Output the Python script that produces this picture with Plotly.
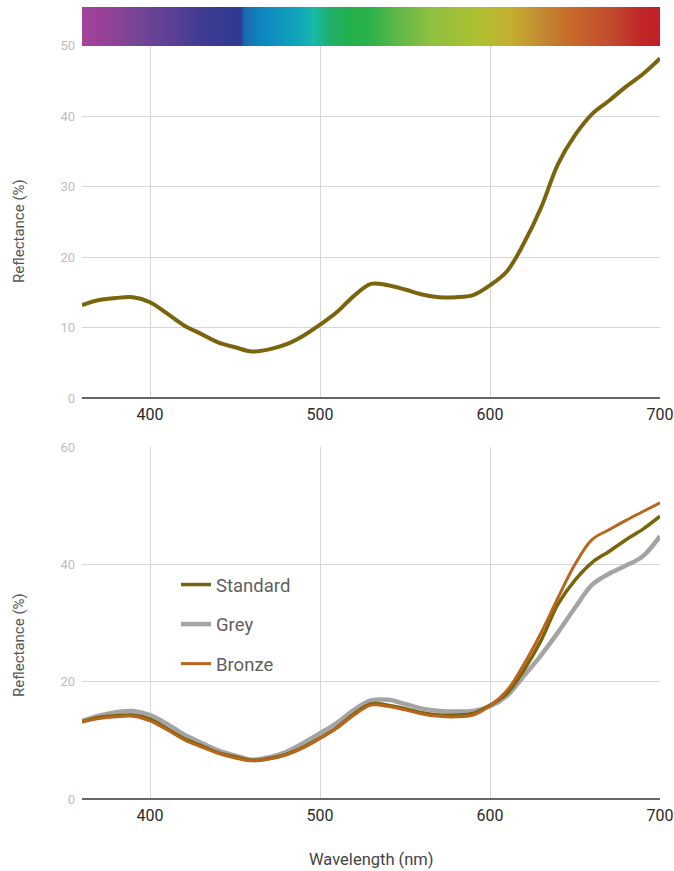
import numpy as np
import plotly.graph_objects as go

# Wavelength grid (nm)
wavelength = list(range(360, 701, 10))

# Reflectance (%) per glass type
standard = [13.2, 13.9, 14.2, 14.3, 13.6, 12.0, 10.3, 9.1, 7.9, 7.2, 6.6, 6.9, 7.6, 8.8,
            10.4, 12.2, 14.5, 16.2, 16.0, 15.4, 14.7, 14.3, 14.3, 14.6, 16.0, 18.0, 22.0,
            27.0, 33.2, 37.3, 40.3, 42.2, 44.2, 46.0, 48.2]
grey = [13.3, 14.2, 14.8, 15.0, 14.3, 12.8, 11.0, 9.6, 8.3, 7.4, 6.7, 7.1, 8.0, 9.5,
        11.2, 13.0, 15.2, 16.8, 16.9, 16.2, 15.4, 15.0, 14.9, 15.0, 15.8, 17.6, 21.0,
        24.5, 28.4, 32.6, 36.5, 38.4, 39.8, 41.4, 44.8]
bronze = [13.1, 13.7, 14.0, 14.1, 13.3, 11.8, 10.1, 8.9, 7.8, 7.0, 6.5, 6.8, 7.5, 8.7,
          10.3, 12.1, 14.3, 16.0, 15.8, 15.2, 14.5, 14.1, 14.0, 14.3, 15.9, 18.5, 23.0,
          28.3, 34.3, 40.0, 44.2, 45.9, 47.5, 49.0, 50.5]

# Visible spectrum colour stops (nm -> colour)
spectrum_nm = [360, 364, 371, 389, 412, 430, 453, 455, 465, 489, 496, 506, 518, 530,
               547, 565, 594, 612, 630, 647, 671, 688, 700]
spectrum_colors = ["#a2449a", "#a0429a", "#9a4196", "#7b4594", "#5a4096", "#3f3c92",
                   "#2e3a8f", "#1a68b0", "#0e86c0", "#10a8b8", "#18b8aa", "#20b068",
                   "#24b04c", "#2fb24a", "#62b848", "#8ec040", "#b0c030", "#c4ae30",
                   "#c28a30", "#c86a2c", "#c24a2e", "#c02828", "#c01e26"]

# Tick values
x_ticks = [400, 500, 600, 700]
top_y_ticks = [0, 10, 20, 30, 40, 50]
bottom_y_ticks = [0, 20, 40, 60]

COLOR_STANDARD = "#7a640c"
COLOR_GREY = "#a4a4a4"
COLOR_BRONZE = "#b8651e"
FONT = "Roboto"

fig = go.Figure()

# Spectrum band along the top of the upper chart
lo, hi = spectrum_nm[0], spectrum_nm[-1]
band_x = np.arange(lo, hi) + 0.5
band_z = [band_x, band_x]
colorscale = [[(w - lo) / (hi - lo), c] for w, c in zip(spectrum_nm, spectrum_colors)]
fig.add_trace(go.Heatmap(
    x=band_x, y=[51.375, 54.125], z=band_z, zmin=lo, zmax=hi,
    colorscale=colorscale, showscale=False, zsmooth="best", hoverinfo="skip",
    xaxis="x", yaxis="y",
))

# Upper chart: standard glass only
fig.add_trace(go.Scatter(
    x=wavelength, y=standard, mode="lines", line=dict(color=COLOR_STANDARD, width=4, shape="spline"),
    showlegend=False, xaxis="x", yaxis="y",
))

# Lower chart: all three glass types
fig.add_trace(go.Scatter(
    x=wavelength, y=grey, name="Grey", mode="lines",
    line=dict(color=COLOR_GREY, width=4.5, shape="spline"),
    legendgroup="g", legendrank=2, xaxis="x2", yaxis="y2",
))
fig.add_trace(go.Scatter(
    x=wavelength, y=standard, name="Standard", mode="lines",
    line=dict(color=COLOR_STANDARD, width=3.5, shape="spline"),
    legendgroup="s", legendrank=1, xaxis="x2", yaxis="y2",
))
fig.add_trace(go.Scatter(
    x=wavelength, y=bronze, name="Bronze", mode="lines",
    line=dict(color=COLOR_BRONZE, width=3, shape="spline"),
    legendgroup="b", legendrank=3, xaxis="x2", yaxis="y2",
))

W, H = 674, 871
L, R, T, B = 82, 14, 7, 72
plot_h = H - T - B


def py(px):
    return (H - B - px) / plot_h


def px_x(px):
    return (px - L) / (W - L - R)


xaxis_common = dict(
    range=[360, 700], tickvals=x_ticks, showgrid=True, gridcolor="#d6d6d6", gridwidth=1,
    zeroline=False, showline=False, ticks="", ticklabelstandoff=5, automargin=False,
    tickfont=dict(family=FONT, size=16, color="#2a2a2a"),
)
yaxis_common = dict(
    showgrid=True, gridcolor="#d6d6d6", gridwidth=1, zeroline=True, zerolinecolor="#666666",
    zerolinewidth=2, showline=False, ticks="", ticklabelstandoff=6, automargin=False,
    tickfont=dict(family=FONT, size=13, color="#bdbdbd"),
)

fig.update_layout(
    width=W, height=H,
    margin=dict(l=L, r=R, t=T, b=B, autoexpand=False),
    paper_bgcolor="white", plot_bgcolor="white",
    xaxis=dict(domain=[0, 1], anchor="y", **xaxis_common),
    yaxis=dict(domain=[py(398), 1], anchor="x", range=[0, 55.5], tickvals=top_y_ticks, **yaxis_common),
    xaxis2=dict(domain=[0, 1], anchor="y2", **xaxis_common),
    yaxis2=dict(domain=[0, py(447)], anchor="x2", range=[0, 60], tickvals=bottom_y_ticks, **yaxis_common),
    showlegend=True,
    legend=dict(
        x=px_x(176), y=py(566), xanchor="left", yanchor="top",
        font=dict(family=FONT, size=18.5, color="#5f5f5f"),
        bgcolor="rgba(0,0,0,0)", tracegroupgap=12.5, traceorder="grouped",
    ),
    annotations=[
        dict(text="Reflectance (%)", x=px_x(19), y=py(231), xref="paper", yref="paper",
             textangle=-90, showarrow=False, xanchor="center", yanchor="middle",
             font=dict(family=FONT, size=15, color="#555555")),
        dict(text="Reflectance (%)", x=px_x(19), y=py(645), xref="paper", yref="paper",
             textangle=-90, showarrow=False, xanchor="center", yanchor="middle",
             font=dict(family=FONT, size=15, color="#555555")),
        dict(text="Wavelength (nm)", x=px_x(371), y=py(859), xref="paper", yref="paper",
             showarrow=False, xanchor="center", yanchor="middle",
             font=dict(family=FONT, size=16.5, color="#444444")),
    ],
)

fig.write_html("out.html")
